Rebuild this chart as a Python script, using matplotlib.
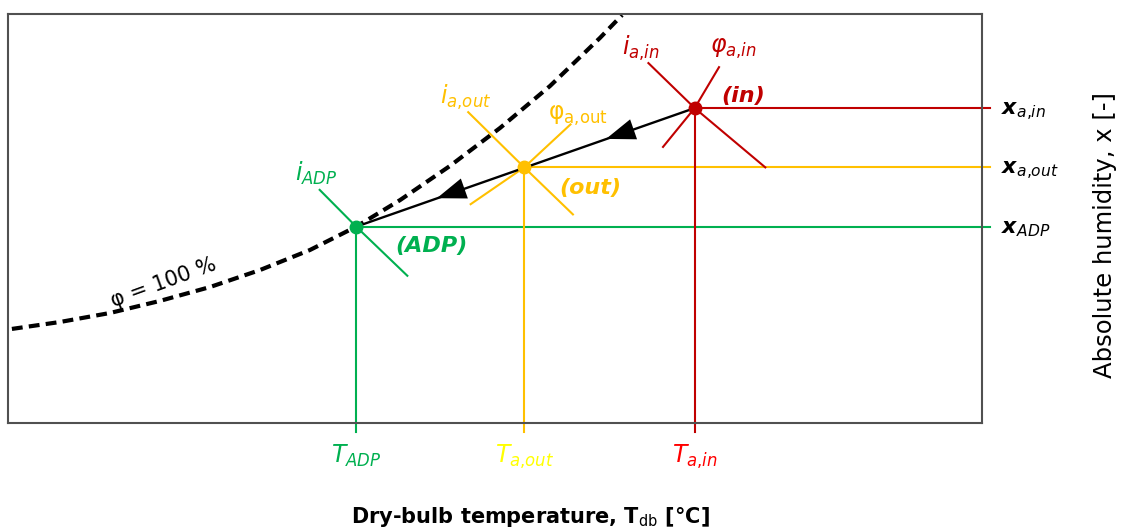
import matplotlib.pyplot as plt

plt.rcParams['mathtext.fontset'] = 'dejavusans'
plt.rcParams['font.family'] = 'DejaVu Sans'

# State points of the cooling coil process: ADP, outlet, inlet
T_STATE = [14.3, 21.2, 28.2]   # dry-bulb temperature
X_STATE = [9.6, 12.5, 15.4]    # absolute humidity

# Saturation curve (phi = 100 %)
SAT_T = [0.16, 2.14, 4.19, 6.24, 8.30, 10.35, 12.40, 14.3, 16.10, 18.15, 20.21, 22.26, 24.31, 25.22]
SAT_X = [4.60, 4.94, 5.38, 5.97, 6.65, 7.48, 8.46, 9.6, 10.90, 12.57, 14.43, 16.48, 18.83, 19.95]

# Constant enthalpy segments through each state (upper-left end, lower-right end)
I_T_ENDS = [(12.8, 16.4), (18.9, 23.2), (26.3, 31.1)]
I_X_ENDS = [(11.4, 7.2), (15.2, 10.2), (17.6, 12.5)]

# Constant relative humidity segments through outlet and inlet (lower-left, mid, upper-right)
PHI_T_ENDS = [(19.0, 23.1), (26.9, 29.2)]
PHI_X_ENDS = [(10.7, 14.6), (13.5, 17.4)]

LINE_COLORS = ['#00B050', '#FFC000', '#C00000']
T_TICK_COLORS = ['#00B050', '#FFFF00', '#FF0000']
T_TICK_LABELS = [r'$T_{ADP}$', r'$T_{a{,}out}$', r'$T_{a{,}in}$']
X_TICK_LABELS = [r'$\mathbfit{x}_{ADP}$', r'$\mathbfit{x}_{a{,}out}$', r'$\mathbfit{x}_{a{,}in}$']

T_MAX, X_MAX = 40, 20


def draw_state_lines(ax):
    """Horizontal, vertical and enthalpy lines for every state point."""
    for i, (t, x, c) in enumerate(zip(T_STATE, X_STATE, LINE_COLORS)):
        ax.plot([t, T_MAX * 1.008], [x, x], color=c, lw=1.5, clip_on=False, zorder=2)
        ax.plot([t, t], [x, -0.45], color=c, lw=1.5, clip_on=False, zorder=2)
        ax.plot([I_T_ENDS[i][0], t, I_T_ENDS[i][1]],
                [I_X_ENDS[i][0], x, I_X_ENDS[i][1]], color=c, lw=1.5, zorder=2)

    for j, c in enumerate(LINE_COLORS[1:]):
        t, x = T_STATE[j + 1], X_STATE[j + 1]
        ax.plot([PHI_T_ENDS[j][0], t, PHI_T_ENDS[j][1]],
                [PHI_X_ENDS[j][0], x, PHI_X_ENDS[j][1]], color=c, lw=1.5, zorder=2)


def draw_process(ax):
    """Process line from inlet to ADP with direction arrows."""
    ax.plot([T_STATE[2], T_STATE[0]], [X_STATE[2], X_STATE[0]], color='black', lw=1.7, zorder=3)
    for a, b in [(2, 1), (1, 0)]:
        tip_t = T_STATE[a] + 0.52 * (T_STATE[b] - T_STATE[a])
        tip_x = X_STATE[a] + 0.52 * (X_STATE[b] - X_STATE[a])
        ax.annotate('', xy=(tip_t, tip_x), xytext=(T_STATE[a], X_STATE[a]),
                    arrowprops=dict(arrowstyle='-|>,head_length=1.05,head_width=0.38',
                                    mutation_scale=20, color='black', lw=0, shrinkA=0, shrinkB=0),
                    zorder=4)
    for t, x, c in zip(T_STATE, X_STATE, LINE_COLORS):
        ax.plot(t, x, 'o', color=c, ms=9, zorder=5)


def draw_labels(ax):
    red, yel, grn = LINE_COLORS[2], LINE_COLORS[1], LINE_COLORS[0]
    ax.text(26.0, 18.3, r'$i_{a{,}in}$', color=red, fontsize=17, ha='center', va='center')
    ax.text(29.8, 18.3, r'$\varphi_{a{,}in}$', color=red, fontsize=17, ha='center', va='center')
    ax.text(30.2, 16.0, '(in)', color=red, fontsize=16, fontweight='bold', style='italic',
            ha='center', va='center')
    ax.text(18.8, 15.9, r'$i_{a{,}out}$', color=yel, fontsize=17, ha='center', va='center')
    ax.text(23.4, 15.0, r'φ$_{\mathrm{a{,}out}}$', color=yel, fontsize=17, ha='center', va='center')
    ax.text(23.9, 11.5, '(out)', color=yel, fontsize=16, fontweight='bold', style='italic',
            ha='center', va='center')
    ax.text(12.65, 12.2, r'$i_{ADP}$', color=grn, fontsize=17, ha='center', va='center')
    ax.text(17.4, 8.65, '(ADP)', color=grn, fontsize=16, fontweight='bold', style='italic',
            ha='center', va='center')
    ax.text(6.4, 6.85, 'φ = 100 %', color='black', fontsize=15, rotation=20,
            rotation_mode='anchor', ha='center', va='center')


def main():
    fig = plt.figure(figsize=(11.25, 5.31), dpi=100)
    ax = fig.add_axes([8 / 1125, 108 / 531, 974 / 1125, 409 / 531])
    ax.set_xlim(0, T_MAX)
    ax.set_ylim(0, X_MAX)

    for s in ax.spines.values():
        s.set_color('#505050')
        s.set_linewidth(1.5)

    ax.plot(SAT_T, SAT_X, color='black', lw=3, linestyle=(0, (2.6, 1.5)), zorder=2)
    draw_state_lines(ax)
    draw_process(ax)
    draw_labels(ax)

    ax.set_xticks(T_STATE)
    ax.set_xticklabels(T_TICK_LABELS, fontsize=17)
    for lbl, c in zip(ax.get_xticklabels(), T_TICK_COLORS):
        lbl.set_color(c)
    ax.set_yticks(X_STATE)
    ax.set_yticklabels(X_TICK_LABELS, fontsize=16)
    for lbl, c in zip(ax.get_yticklabels(), LINE_COLORS):
        lbl.set_color(c)
    ax.tick_params(axis='x', length=0, pad=14)
    ax.tick_params(axis='y', length=0, pad=14, left=False, labelleft=False,
                   right=False, labelright=True)

    fig.text(530 / 1125, 1 - 517 / 531, r'Dry-bulb temperature, T$_{\mathrm{db}}$ [°C]',
             fontsize=15, fontweight='bold', ha='center', va='center')
    fig.text(1105 / 1125, 1 - 235 / 531, 'Absolute humidity, x [-]', fontsize=17.5,
             rotation=90, ha='center', va='center')

    fig.savefig('out.png', dpi=100, facecolor='white')
    plt.close(fig)


if __name__ == '__main__':
    main()
